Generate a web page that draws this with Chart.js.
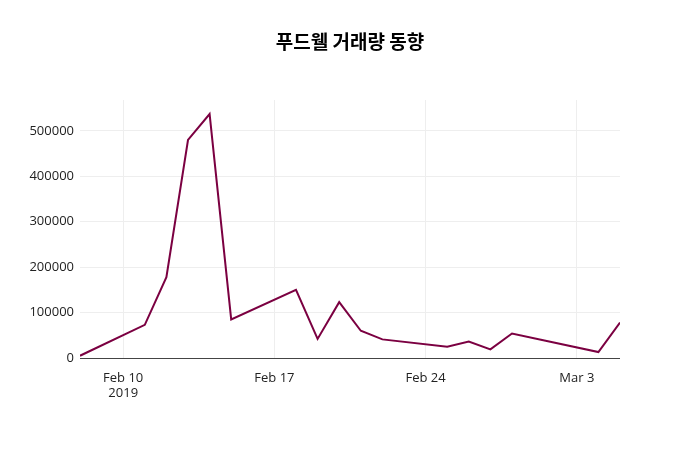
<!DOCTYPE html>
<html>
<head>
<meta charset="utf-8">
<script src="https://cdn.jsdelivr.net/npm/chart.js@4"></script>
<style>
  body { margin: 0; background: #fff; }
  #wrap { width: 700px; height: 450px; }
</style>
</head>
<body>
<div id="wrap"><canvas id="myChart" width="700" height="450"></canvas></div>
<script>
// days counted from Feb 10 2019
var dayOffsets = [-2, 1, 2, 3, 4, 5, 8, 9, 10, 11, 12, 15, 16, 17, 18, 22, 23];
var volumes = [5000, 73000, 178000, 480000, 537000, 85000, 150000, 42000, 123000, 60000, 41000, 25000, 36000, 19000, 54000, 13000, 78000];
var tickDays = [0, 7, 14, 21];
var tickLabels = [['Feb 10', '2019'], 'Feb 17', 'Feb 24', 'Mar 3'];
var yTicks = [0, 100000, 200000, 300000, 400000, 500000];

var points = dayOffsets.map(function(d, i) { return { x: d, y: volumes[i] }; });

// title drawn on top of the canvas
var titlePlugin = {
  id: 'titleText',
  afterDraw: function(chart) {
    var c = chart.ctx;
    c.save();
    c.font = 'bold 19px "Noto Sans CJK KR"';
    c.fillStyle = '#000';
    c.textAlign = 'center';
    c.textBaseline = 'middle';
    c.fillText('푸드웰 거래량 동향', 350, 42);
    c.restore();
  }
};

var ctx = document.getElementById('myChart').getContext('2d');
var myChart = new Chart(ctx, {
  type: 'line',
  data: {
    datasets: [{
      data: points,
      borderColor: '#7b0041',
      borderWidth: 2,
      pointRadius: 0,
      tension: 0,
      fill: false
    }]
  },
  options: {
    responsive: false,
    animation: false,
    layout: { padding: { top: 100, right: 80, left: 0, bottom: 0 } },
    scales: {
      x: {
        type: 'linear',
        min: -2,
        max: 23,
        afterBuildTicks: function(axis) {
          axis.ticks = tickDays.map(function(v) { return { value: v }; });
        },
        ticks: {
          color: '#222',
          font: { family: 'Open Sans', size: 13 },
          maxRotation: 0,
          padding: 12,
          callback: function(v) {
            var i = tickDays.indexOf(v);
            return i >= 0 ? tickLabels[i] : '';
          }
        },
        grid: { color: '#eee', drawTicks: false },
        border: { display: false },
        afterFit: function(axis) { axis.height = 92; }
      },
      y: {
        min: 0,
        max: 568000,
        afterBuildTicks: function(axis) {
          axis.ticks = yTicks.map(function(v) { return { value: v }; });
        },
        ticks: {
          color: '#222',
          font: { family: 'Open Sans', size: 13 },
          padding: 6,
          callback: function(v) { return String(v); }
        },
        grid: {
          drawTicks: false,
          color: function(c) { return c.tick && c.tick.value === 0 ? '#444' : '#eee'; }
        },
        border: { display: false },
        afterFit: function(axis) { axis.width = 80; }
      }
    },
    plugins: {
      legend: { display: false },
      tooltip: { enabled: false }
    }
  },
  plugins: [titlePlugin]
});
</script>
</body>
</html>
